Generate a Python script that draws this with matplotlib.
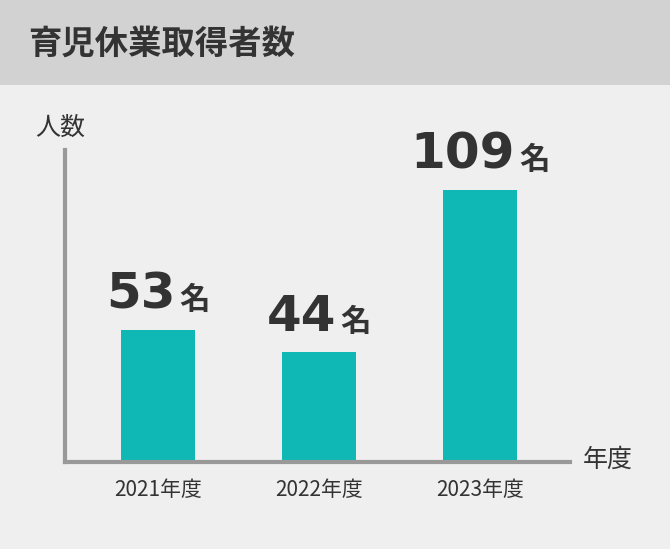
import matplotlib.pyplot as plt
from matplotlib.patches import Rectangle
from matplotlib.offsetbox import TextArea, HPacker, AnnotationBbox

years = ["2021年度", "2022年度", "2023年度"]
counts = [53, 44, 109]

FONT = "Noto Sans CJK JP"
TXT = "#333333"
W, H = 670, 549

fig = plt.figure(figsize=(6.7, 5.49), dpi=100)
fig.patch.set_facecolor("#efefef")

# header band
fig.patches.append(Rectangle((0, (H - 85) / H), 1, 85 / H, transform=fig.transFigure,
                             facecolor="#d2d2d2", edgecolor="none", zorder=0))
fig.text(28 / W, 1 - 44 / H, "育児休業取得者数", fontsize=24, fontweight="bold",
         family=FONT, color=TXT, va="center")

ax = fig.add_axes([65 / W, 87 / H, 505 / W, 312 / H])
ax.set_facecolor("none")
x = range(len(years))
ax.bar(x, counts, width=0.46, color="#0fb8b4")
ax.set_xlim(-0.578, 2.559)
ax.set_ylim(0, 125)
for s in ["top", "right"]:
    ax.spines[s].set_visible(False)
for s in ["left", "bottom"]:
    ax.spines[s].set_color("#999999")
    ax.spines[s].set_linewidth(3)
ax.set_yticks([])
ax.set_xticks(list(x))
ax.set_xticklabels(years, family=FONT, fontsize=15, color=TXT)
ax.tick_params(axis="x", length=0, pad=12)

for i, v in enumerate(counts):
    num = TextArea(str(v), textprops=dict(family="DejaVu Sans", fontsize=36, fontweight="bold", color=TXT))
    unit = TextArea("名", textprops=dict(family=FONT, fontsize=22, fontweight="bold", color=TXT))
    box = HPacker(children=[num, unit], align="baseline", pad=0, sep=3)
    ab = AnnotationBbox(box, (i, v), xybox=(0, 8), xycoords="data", boxcoords="offset points",
                        box_alignment=(0.5, 0), frameon=False)
    ax.add_artist(ab)

fig.text(35 / W, 1 - 128 / H, "人数", family=FONT, fontsize=18, color=TXT, va="center")
fig.text(583 / W, 1 - 460 / H, "年度", family=FONT, fontsize=18, color=TXT, va="center")

fig.savefig("out.png", dpi=100, facecolor=fig.get_facecolor())
